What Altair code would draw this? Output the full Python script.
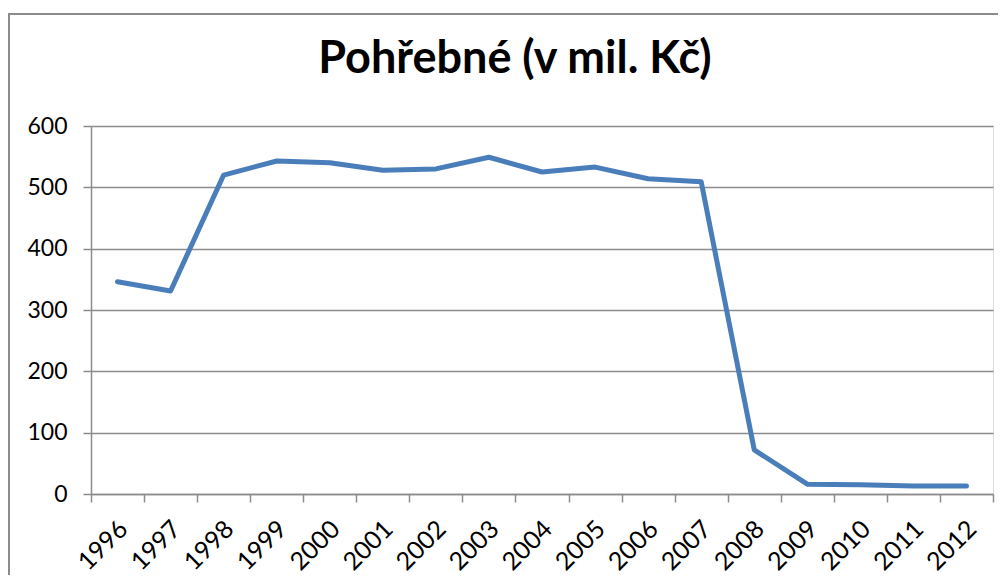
import altair as alt
import pandas as pd

years = ["1996", "1997", "1998", "1999", "2000", "2001", "2002", "2003", "2004",
         "2005", "2006", "2007", "2008", "2009", "2010", "2011", "2012"]
values = [346, 331, 520, 543, 540, 528, 530, 549, 525, 533, 514, 509, 72, 16, 15, 13, 13]
y_ticks = [0, 100, 200, 300, 400, 500, 600]
title_text = "Pohřebné (v mil. Kč)"

df = pd.DataFrame({"year": years, "value": values})

W, H = 902, 368
GRID = "#8c8c8c"
FONT = "Lato"

line = alt.Chart(df).mark_line(
    color="#4a7ebb", strokeWidth=5, strokeJoin="round", strokeCap="round"
).encode(
    x=alt.X("year:O", sort=years,
            scale=alt.Scale(type="band", paddingInner=0, paddingOuter=0),
            axis=alt.Axis(title=None, labelAngle=-45, labelAlign="right", labelBaseline="top",
                          tickBand="extent", grid=False, domainColor=GRID, domainWidth=1.5,
                          tickColor=GRID, tickWidth=1.5, tickSize=8, labelPadding=14,
                          labelFont=FONT, labelFontSize=25, labelColor="black", labelOffset=-3)),
    y=alt.Y("value:Q", scale=alt.Scale(domain=[0, 600], nice=False),
            axis=alt.Axis(title=None, values=y_ticks, grid=True, gridColor=GRID, gridWidth=1.5,
                          domainColor=GRID, domainWidth=1.5, tickColor=GRID, tickWidth=1.5,
                          tickSize=8, labelPadding=16, labelFont=FONT, labelFontSize=23,
                          labelColor="black"))
)

one = pd.DataFrame({"a": [0]})
border = alt.Chart(one).mark_rect(fill=None, stroke=GRID, strokeWidth=2).encode(
    x=alt.value(-82), y=alt.value(-112), x2=alt.value(1040), y2=alt.value(600)
)
title = alt.Chart(one).mark_text(
    font=FONT, fontSize=45, fontWeight="bold", color="black", align="center", baseline="alphabetic"
).encode(x=alt.value(424), y=alt.value(-53), text=alt.value(title_text))

chart = alt.layer(border, line, title).properties(
    width=W, height=H,
    autosize=alt.AutoSizeParams(type="none"),
    padding={"left": 83, "top": 118, "right": 5, "bottom": 81},
).configure_view(stroke=None).configure(background="white")

chart.save("out.html", embed_options={"renderer": "svg", "actions": False})
